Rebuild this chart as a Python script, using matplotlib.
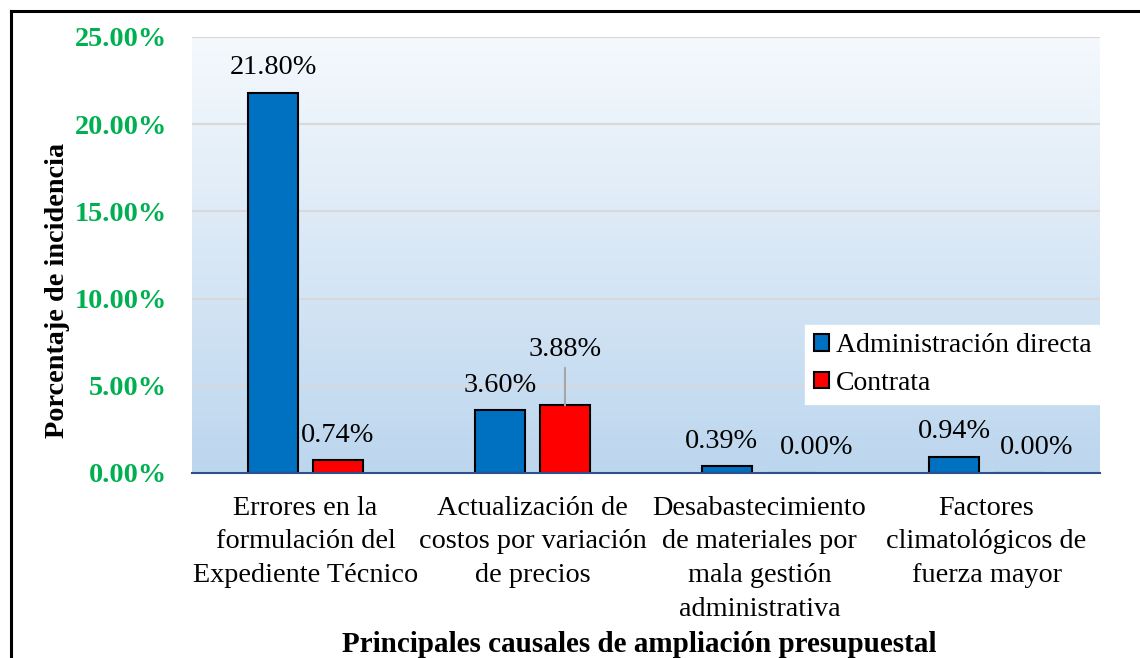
import numpy as np
import matplotlib.pyplot as plt
from matplotlib.colors import LinearSegmentedColormap
from matplotlib.lines import Line2D
from matplotlib.patches import Patch

plt.rcParams["font.family"] = ["Liberation Serif", "DejaVu Serif"]

# ---------------------------------------------------------------
#  Data
# ---------------------------------------------------------------
categories = [
    "Errores en la\nformulación del\nExpediente Técnico",
    "Actualización de\ncostos por variación\nde precios",
    "Desabastecimiento\nde materiales por\nmala gestión\nadministrativa",
    "Factores\nclimatológicos de\nfuerza mayor",
]
series_names = ["Administración directa", "Contrata"]
admin_directa = [21.80, 3.60, 0.39, 0.94]
contrata = [0.74, 3.88, 0.00, 0.00]
y_ticks = [0, 5, 10, 15, 20, 25]

BLUE = "#0070c0"
RED = "#ff0000"
GREEN = "#00b050"
FS = 20.3

fig = plt.figure(figsize=(11.4, 6.58), dpi=100)
ax = fig.add_axes([192 / 1140, 1 - 473 / 658, 908 / 1140, 436 / 658])

# Soft vertical gradient behind the bars
grad = LinearSegmentedColormap.from_list("bg", ["#bcd6ee", "#f5f9fd"])
ax.imshow(np.linspace(0, 1, 256).reshape(-1, 1), cmap=grad, origin="lower",
          extent=[-0.5, 3.5, 0, 25], aspect="auto", zorder=0)

x = np.arange(len(categories))
offset = 0.143
width = 0.22
ax.bar(x - offset, admin_directa, width, color=BLUE, edgecolor="black",
       linewidth=1.5, zorder=3, label=series_names[0])
ax.bar(x + offset, contrata, width, color=RED, edgecolor="black",
       linewidth=1.5, zorder=3, label=series_names[1])

ax.set_xlim(-0.5, 3.5)
ax.set_ylim(0, 25)
ax.set_yticks(y_ticks)
ax.set_yticklabels([f"{v:.2f}%" for v in y_ticks], color=GREEN,
                   fontweight="bold", fontsize=FS)
ax.set_xticks(x)
ax.set_xticklabels(categories, fontsize=FS, linespacing=1.45)
ax.tick_params(axis="y", length=0, pad=18)
ax.tick_params(axis="x", length=0, pad=16.5)

ax.grid(axis="y", color="#d9d9d9", linewidth=1.5, zorder=1)
for side in ["top", "right", "left"]:
    ax.spines[side].set_visible(False)
ax.spines["bottom"].set_color("#2f4f8f")
ax.spines["bottom"].set_linewidth(1.5)
ax.spines["bottom"].set_zorder(4)

# Data labels; a few were nudged sideways so they don't collide
admin_dx = [0, 0, -4, 0]
contrata_dx = [0, 0, 18, 13]
for xi, v, dx in zip(x - offset, admin_directa, admin_dx):
    ax.annotate(f"{v:.2f}%", (xi, v), xytext=(dx, 18), textcoords="offset points",
                ha="center", va="center", fontsize=FS, zorder=5)
for xi, v, dx in zip(x + offset, contrata, contrata_dx):
    if v == 3.88:
        # this label sits higher, joined to its bar by a leader line
        ax.annotate(f"{v:.2f}%", (xi, v), xytext=(0, 40), textcoords="offset points",
                    ha="center", va="center", fontsize=FS, zorder=5,
                    arrowprops=dict(arrowstyle="-", color="#a6a6a6", lw=1.5,
                                    shrinkA=2, shrinkB=0))
    else:
        ax.annotate(f"{v:.2f}%", (xi, v), xytext=(dx, 18), textcoords="offset points",
                    ha="center", va="center", fontsize=FS, zorder=5)

fig.text(57 / 1140, 1 - 290 / 658, "Porcentaje de incidencia", rotation=90,
         ha="center", va="center", fontsize=FS, fontweight="bold")
fig.text(639 / 1140, 1 - 644 / 658, "Principales causales de ampliación presupuestal",
         ha="center", va="center", fontsize=21, fontweight="bold")

handles = [Patch(facecolor=BLUE, edgecolor="black", linewidth=1.5),
           Patch(facecolor=RED, edgecolor="black", linewidth=1.5)]
leg = ax.legend(handles, series_names, loc="upper right",
                bbox_to_anchor=(1.0, (473 - 325) / 436), fontsize=20,
                frameon=True, fancybox=False, borderaxespad=0, borderpad=0.3,
                handlelength=0.55, handleheight=0.55, handletextpad=0.25,
                labelspacing=0.45)
leg.get_frame().set_facecolor("white")
leg.get_frame().set_edgecolor("white")
leg.get_frame().set_alpha(1)
leg.set_zorder(6)

# Outer frame (left and top edges)
fig.add_artist(Line2D([11 / 1140, 11 / 1140], [-0.1, 1 - 11 / 658],
                      transform=fig.transFigure, color="black", linewidth=2.2))
fig.add_artist(Line2D([11 / 1140, 1.1], [1 - 11 / 658, 1 - 11 / 658],
                      transform=fig.transFigure, color="black", linewidth=2.2))

fig.savefig("out.png", dpi=100)
